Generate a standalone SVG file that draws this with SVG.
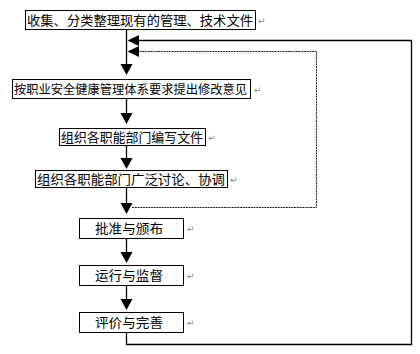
<svg xmlns="http://www.w3.org/2000/svg" width="420" height="354" viewBox="0 0 420 354">
<style>
.box{fill:#fff;stroke:#000;stroke-width:1}
.t{font-family:"Noto Sans CJK SC","Noto Sans",sans-serif;font-size:13px;fill:#000}
.pm{font-family:"DejaVu Sans",sans-serif;font-size:9px;fill:#888}
.ln{fill:none;stroke:#000;stroke-width:1.3}
.dl{fill:none;stroke:#222;stroke-width:1;stroke-dasharray:2 0.7}
.ah{fill:#000}
</style>
<rect width="420" height="354" fill="#fff"/>
<g id="connectors">
<path class="ln" d="M126.5 29V66M126.5 99V116M126.5 145V161M126.5 187V206M126.5 239V255M126.5 285V302M126.5 333V344.5H411.5V40.5H138"/>
<path class="dl" d="M132 207.5H316.5V51.5H138"/>
<polygon class="ah" points="120.5,64 132.5,64 126.5,75"/>
<polygon class="ah" points="120.5,113 132.5,113 126.5,124"/>
<polygon class="ah" points="120.5,158 132.5,158 126.5,169"/>
<polygon class="ah" points="120.5,203 132.5,203 126.5,214"/>
<polygon class="ah" points="120.5,252 132.5,252 126.5,263"/>
<polygon class="ah" points="120.5,299 132.5,299 126.5,310"/>
<polygon class="ah" points="139,35 139,46 127.5,40.5"/>
<polygon class="ah" points="139,46 139,57 127.5,51.5"/>
</g>
<g id="n1">
<rect class="box" x="25.5" y="10.5" width="230" height="19"/>
<text class="t" x="27" y="25" textLength="226" lengthAdjust="spacingAndGlyphs">收集、分类整理现有的管理、技术文件</text>
<text class="pm" x="258" y="24">↵</text>
</g>
<g id="n2">
<rect class="box" x="12.5" y="79.5" width="238" height="19"/>
<text class="t" x="14" y="94" style="font-size:12.2px" textLength="233" lengthAdjust="spacingAndGlyphs">按职业安全健康管理体系要求提出修改意见</text>
<text class="pm" x="254" y="93">↵</text>
</g>
<g id="n3">
<rect class="box" x="59.5" y="128.5" width="146" height="17"/>
<text class="t" x="61" y="142" textLength="142" lengthAdjust="spacingAndGlyphs">组织各职能部门编写文件</text>
<text class="pm" x="208" y="141">↵</text>
</g>
<g id="n4">
<rect class="box" x="35.5" y="170.5" width="192" height="17"/>
<text class="t" x="37" y="184" textLength="188" lengthAdjust="spacingAndGlyphs">组织各职能部门广泛讨论、协调</text>
<text class="pm" x="230" y="183">↵</text>
</g>
<g id="n5">
<rect class="box" x="79.5" y="218.5" width="104" height="20"/>
<text class="t" x="95" y="233" textLength="68" lengthAdjust="spacingAndGlyphs">批准与颁布</text>
<text class="pm" x="187" y="232">↵</text>
</g>
<g id="n6">
<rect class="box" x="79.5" y="265.5" width="104" height="20"/>
<text class="t" x="95" y="280" textLength="68" lengthAdjust="spacingAndGlyphs">运行与监督</text>
<text class="pm" x="187" y="279">↵</text>
</g>
<g id="n7">
<rect class="box" x="79.5" y="312.5" width="104" height="20"/>
<text class="t" x="95" y="327" textLength="68" lengthAdjust="spacingAndGlyphs">评价与完善</text>
<text class="pm" x="187" y="326">↵</text>
</g>
</svg>
